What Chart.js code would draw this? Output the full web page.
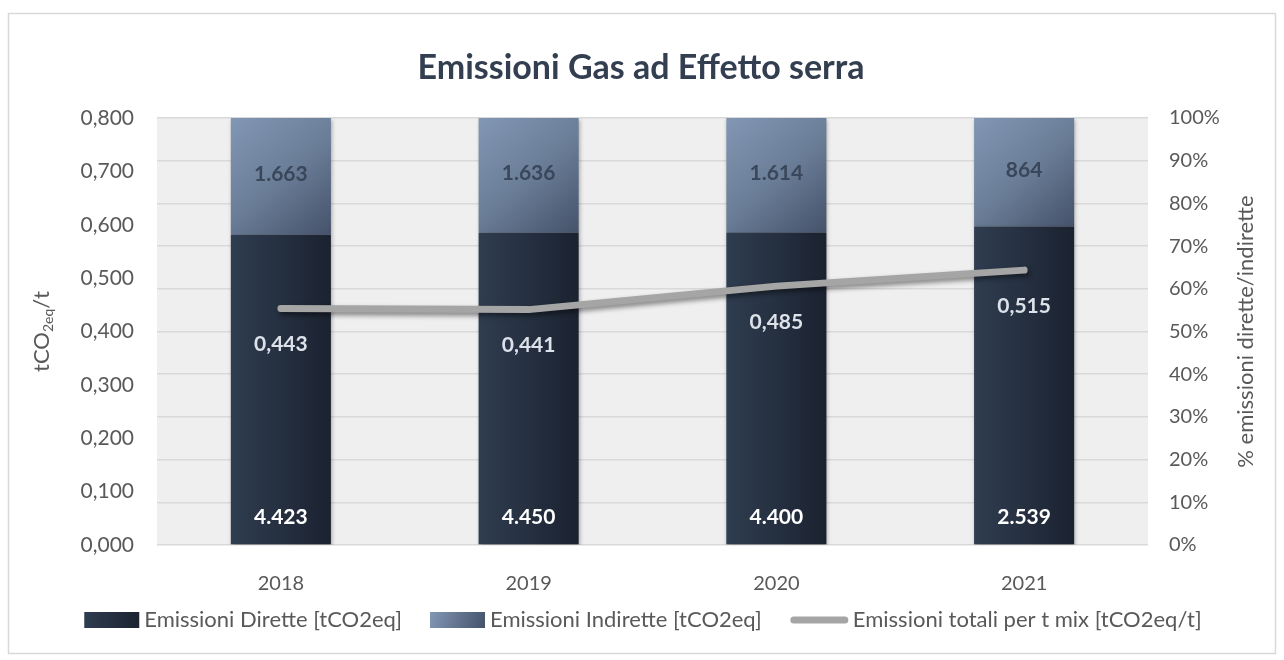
<!DOCTYPE html>
<html>
<head>
<meta charset="utf-8">
<script src="https://cdn.jsdelivr.net/npm/chart.js@4.4.0/dist/chart.umd.min.js"></script>
<style>
  html, body { margin: 0; padding: 0; background: #fff; }
  #wrap { width: 1284px; height: 660px; }
</style>
</head>
<body>
<div id="wrap"><canvas id="ghgChart"></canvas></div>
<script>
// categories and series
const years = ['2018', '2019', '2020', '2021'];
const direct = [4423, 4450, 4400, 2539];      // Emissioni Dirette [tCO2eq]
const indirect = [1663, 1636, 1614, 864];     // Emissioni Indirette [tCO2eq]
const perTon = [0.443, 0.441, 0.485, 0.515];  // Emissioni totali per t mix [tCO2eq/t]

// tick labels
const leftTicks = ['0,000', '0,100', '0,200', '0,300', '0,400', '0,500', '0,600', '0,700', '0,800'];
const rightTicks = ['0%', '10%', '20%', '30%', '40%', '50%', '60%', '70%', '80%', '90%', '100%'];

const legendNames = ['Emissioni Dirette [tCO2eq]', 'Emissioni Indirette [tCO2eq]', 'Emissioni totali per t mix [tCO2eq/t]'];

// share of each bar (100% stacked)
const directShare = direct.map((d, i) => d / (d + indirect[i]));
const indirectShare = indirect.map((d, i) => d / (d + direct[i]));

const FONT = 'Lato, "Open Sans", sans-serif';
const GREY = '#595959';
const BAR_HALF = 50;

function fmtThousands(v) {
    return String(v).replace(/\B(?=(\d{3})+(?!\d))/g, '.');
}

function directFill(ctx) {
    const chart = ctx.chart;
    if (!chart.chartArea || ctx.type !== 'data') return '#26313f';
    const x = chart.scales.x.getPixelForValue(ctx.dataIndex);
    const g = chart.ctx.createLinearGradient(x - BAR_HALF, 0, x + BAR_HALF, 0);
    g.addColorStop(0, '#2f3d50');
    g.addColorStop(1, '#1b2230');
    return g;
}

function indirectFill(ctx) {
    const chart = ctx.chart;
    if (!chart.chartArea || ctx.type !== 'data') return '#66788f';
    const x = chart.scales.x.getPixelForValue(ctx.dataIndex);
    const y = chart.scales.yPct;
    const top = y.getPixelForValue(1);
    const bot = y.getPixelForValue(directShare[ctx.dataIndex]);
    const g = chart.ctx.createLinearGradient(x - BAR_HALF, top, x + BAR_HALF, bot);
    g.addColorStop(0, '#8297b4');
    g.addColorStop(0.5, '#6b7e98');
    g.addColorStop(1, '#45526a');
    return g;
}

// frame + plot background
const backdrop = {
    id: 'backdrop',
    beforeDraw(chart) {
        const c = chart.ctx, a = chart.chartArea;
        c.save();
        c.fillStyle = '#ffffff';
        c.fillRect(0, 0, chart.width, chart.height);
        c.strokeStyle = '#d9d9d9';
        c.lineWidth = 1.5;
        c.strokeRect(8.5, 13.5, 1267, 640);
        c.fillStyle = '#efefef';
        c.fillRect(a.left, a.top, a.right - a.left, a.bottom - a.top);
        c.restore();
    }
};

// soft shadow under bars and line
const shadows = {
    id: 'shadows',
    beforeDatasetDraw(chart, args) {
        const c = chart.ctx;
        c.save();
        if (args.meta.type === 'line') {
            c.shadowColor = 'rgba(0,0,0,0.45)';
            c.shadowBlur = 5;
            c.shadowOffsetX = 2;
            c.shadowOffsetY = 3;
        } else {
            c.shadowColor = 'rgba(0,0,0,0.3)';
            c.shadowBlur = 4;
            c.shadowOffsetX = 1;
            c.shadowOffsetY = 2;
        }
    },
    afterDatasetDraw(chart) {
        chart.ctx.restore();
    }
};

// value labels
const valueLabels = {
    id: 'valueLabels',
    afterDatasetsDraw(chart) {
        const c = chart.ctx;
        c.save();
        c.textAlign = 'center';
        c.textBaseline = 'middle';
        c.font = 'bold 21px ' + FONT;
        const mDir = chart.getDatasetMeta(0);
        const mInd = chart.getDatasetMeta(1);
        const mLine = chart.getDatasetMeta(2);
        mDir.data.forEach((el, i) => {
            c.fillStyle = '#ffffff';
            c.fillText(fmtThousands(direct[i]), el.x, el.base - 27);
        });
        mInd.data.forEach((el, i) => {
            c.fillStyle = '#3a4659';
            c.fillText(fmtThousands(indirect[i]), el.x, (el.y + el.base) / 2 - 2);
        });
        mLine.data.forEach((pt, i) => {
            c.fillStyle = '#dde2ea';
            c.fillText(perTon[i].toFixed(3).replace('.', ','), pt.x, pt.y + 36);
        });
        c.restore();
    }
};

// chart title, axis titles, legend
const decorations = {
    id: 'decorations',
    afterDraw(chart) {
        const c = chart.ctx, a = chart.chartArea;
        const midY = (a.top + a.bottom) / 2;
        c.save();
        // main title
        c.fillStyle = '#333f50';
        c.font = 'bold 34px ' + FONT;
        c.textAlign = 'center';
        c.textBaseline = 'middle';
        c.fillText('Emissioni Gas ad Effetto serra', 641, 68);

        // left axis title with subscript
        c.save();
        c.translate(42, midY);
        c.rotate(-Math.PI / 2);
        c.fillStyle = GREY;
        c.textBaseline = 'alphabetic';
        c.textAlign = 'left';
        const big = '22px ' + FONT, small = '14px ' + FONT;
        c.font = big; const w1 = c.measureText('tCO').width; const w3 = c.measureText('/t').width;
        c.font = small; const w2 = c.measureText('2eq').width;
        let x = -(w1 + w2 + w3) / 2;
        c.font = big; c.fillText('tCO', x, 7); x += w1;
        c.font = small; c.fillText('2eq', x, 11); x += w2;
        c.font = big; c.fillText('/t', x, 7);
        c.restore();

        // right axis title
        c.save();
        c.translate(1246, midY);
        c.rotate(-Math.PI / 2);
        c.fillStyle = GREY;
        c.font = '22px ' + FONT;
        c.textAlign = 'center';
        c.textBaseline = 'middle';
        c.fillText('% emissioni dirette/indirette', 0, 0);
        c.restore();

        // legend
        c.font = '22px ' + FONT;
        c.textBaseline = 'middle';
        c.textAlign = 'left';
        const ly = 620;
        const marks = [55, 55, 58];
        const gapMark = 5, gapItem = 28;
        const widths = legendNames.map((t, i) => marks[i] + gapMark + c.measureText(t).width);
        const total = widths.reduce((s, w) => s + w, 0) + gapItem * 2;
        let lx = 643 - total / 2;
        legendNames.forEach((t, i) => {
            if (i === 0) {
                const g = c.createLinearGradient(lx, 0, lx + 55, 0);
                g.addColorStop(0, '#2f3d50'); g.addColorStop(1, '#1b2230');
                c.fillStyle = g;
                c.fillRect(lx, ly - 8, 55, 16);
            } else if (i === 1) {
                const g = c.createLinearGradient(lx, ly - 8, lx + 55, ly + 8);
                g.addColorStop(0, '#8297b4'); g.addColorStop(1, '#45526a');
                c.fillStyle = g;
                c.fillRect(lx, ly - 8, 55, 16);
            } else {
                c.strokeStyle = '#a5a5a5';
                c.lineWidth = 7;
                c.lineCap = 'round';
                c.beginPath();
                c.moveTo(lx + 4, ly);
                c.lineTo(lx + 55, ly);
                c.stroke();
            }
            c.fillStyle = GREY;
            c.fillText(t, lx + marks[i] + gapMark, ly);
            lx += widths[i] + gapItem;
        });
        c.restore();
    }
};

const ctx = document.getElementById('ghgChart').getContext('2d');
new Chart(ctx, {
    data: {
        labels: years,
        datasets: [
            {
                type: 'bar',
                label: legendNames[0],
                data: directShare,
                yAxisID: 'yPct',
                backgroundColor: directFill,
                borderWidth: 0,
                barPercentage: 0.404,
                categoryPercentage: 1,
                order: 1
            },
            {
                type: 'bar',
                label: legendNames[1],
                data: indirectShare,
                yAxisID: 'yPct',
                backgroundColor: indirectFill,
                borderWidth: 0,
                barPercentage: 0.404,
                categoryPercentage: 1,
                order: 2
            },
            {
                type: 'line',
                label: legendNames[2],
                data: perTon,
                yAxisID: 'yL',
                borderColor: '#a5a5a5',
                borderWidth: 7,
                borderCapStyle: 'round',
                borderJoinStyle: 'round',
                pointRadius: 0,
                tension: 0,
                fill: false,
                order: 0
            }
        ]
    },
    options: {
        responsive: true,
        maintainAspectRatio: false,
        animation: false,
        layout: { padding: { top: 118, left: 0, right: 0, bottom: 0 } },
        plugins: {
            legend: { display: false },
            tooltip: { enabled: false }
        },
        scales: {
            x: {
                stacked: true,
                grid: { display: false },
                border: { display: false },
                ticks: { color: GREY, font: { family: FONT, size: 20 }, padding: 19 },
                afterFit(scale) { scale.height = 115; }
            },
            yL: {
                position: 'left',
                min: 0,
                max: 0.8,
                grid: { display: false },
                border: { display: false },
                ticks: {
                    stepSize: 0.1,
                    color: GREY,
                    font: { family: FONT, size: 21 },
                    padding: 15,
                    callback: (v, i) => leftTicks[i]
                },
                afterFit(scale) { scale.width = 157; }
            },
            yPct: {
                position: 'right',
                stacked: true,
                min: 0,
                max: 1,
                grid: { color: '#d9d9d9', lineWidth: 1.5, drawTicks: false },
                border: { display: false },
                ticks: {
                    stepSize: 0.1,
                    color: GREY,
                    font: { family: FONT, size: 20 },
                    padding: 21,
                    callback: (v, i) => rightTicks[i]
                },
                afterFit(scale) { scale.width = 136; }
            }
        }
    },
    plugins: [backdrop, shadows, valueLabels, decorations]
});
</script>
</body>
</html>
